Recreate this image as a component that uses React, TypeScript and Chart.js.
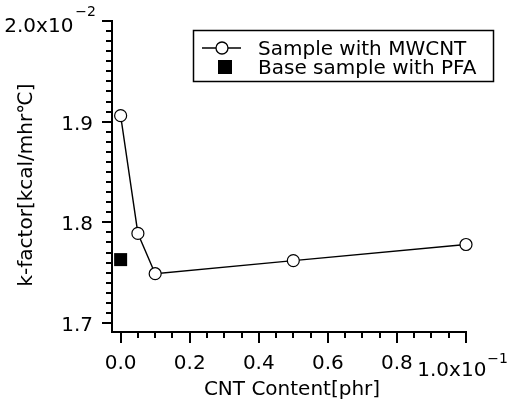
import React, { useEffect, useRef } from "react";
import { Chart, registerables } from "chart.js";

Chart.register(...registerables);

// ---- data ----
const contentX = [0, 0.05, 0.1, 0.5, 1.0]; // CNT content, x10^-1 phr
const mwcntK = [1.906, 1.789, 1.749, 1.762, 1.778]; // k-factor, x10^-2
const pfaX = [0];
const pfaK = [1.763];

const xMajorTicks = [0, 0.2, 0.4, 0.6, 0.8, 1.0];
const xTickLabels = ["0.0", "0.2", "0.4", "0.6", "0.8", "1.0x10"];
const xMinorStep = 0.05;
const yMajorTicks = [1.7, 1.8, 1.9, 2.0];
const yTickLabels = ["1.7", "1.8", "1.9", "2.0x10"];
const yMinorStep = 0.01;
const xExponent = "\u22121";
const yExponent = "\u22122";

const xTitle = "CNT Content[phr]";
const yTitle = "k-factor[kcal/mhr℃]";
const seriesNames = ["Sample with MWCNT", "Base sample with PFA"];

const FONT = '"DejaVu Sans", sans-serif';

const axesPlugin = {
  id: "customAxes",
  afterDraw(chart: any) {
    const ctx = chart.ctx as CanvasRenderingContext2D;
    const xs = chart.scales.x;
    const ys = chart.scales.y;
    const ca = chart.chartArea;
    ctx.save();
    ctx.strokeStyle = "#000";
    ctx.fillStyle = "#000";
    ctx.lineWidth = 2;
    const left = Math.round(ca.left);
    const bottom = Math.round(ca.bottom);
    // axis lines
    ctx.beginPath();
    ctx.moveTo(left, Math.round(ys.getPixelForValue(2.0)) - 1);
    ctx.lineTo(left, bottom);
    ctx.lineTo(Math.round(xs.getPixelForValue(1.0)) + 1, bottom);
    ctx.stroke();

    // x ticks
    const nX = Math.round(1.0 / xMinorStep);
    for (let i = 0; i <= nX; i++) {
      const v = i * xMinorStep;
      const px = Math.round(xs.getPixelForValue(v));
      const major = xMajorTicks.some((m) => Math.abs(m - v) < 1e-6);
      ctx.beginPath();
      ctx.moveTo(px, bottom);
      ctx.lineTo(px, bottom + (major ? 11 : 6));
      ctx.stroke();
    }
    // y ticks
    const nY = Math.round((2.0 - 1.7) / yMinorStep);
    for (let i = 0; i <= nY; i++) {
      const v = 1.7 + i * yMinorStep;
      const py = Math.round(ys.getPixelForValue(v));
      const major = yMajorTicks.some((m) => Math.abs(m - v) < 1e-6);
      ctx.beginPath();
      ctx.moveTo(left, py);
      ctx.lineTo(left - (major ? 10 : 6), py);
      ctx.stroke();
    }

    // labels
    const F = `20px ${FONT}`;
    const FS = `14px ${FONT}`;
    ctx.font = F;
    ctx.textBaseline = "alphabetic";
    xMajorTicks.forEach((v, i) => {
      const px = xs.getPixelForValue(v);
      if (i === xMajorTicks.length - 1) {
        ctx.font = FS;
        const ew = ctx.measureText(xExponent).width;
        ctx.textAlign = "right";
        ctx.fillText(xExponent, 508, bottom + 31);
        ctx.font = F;
        ctx.fillText(xTickLabels[i], 508 - ew - 1, bottom + 44);
      } else {
        ctx.textAlign = "center";
        ctx.fillText(xTickLabels[i], px, bottom + 37);
      }
    });
    yMajorTicks.forEach((v, i) => {
      const py = ys.getPixelForValue(v);
      if (i === yMajorTicks.length - 1) {
        ctx.font = FS;
        ctx.textAlign = "right";
        ctx.fillText(yExponent, left - 16, py - 5);
        const ew = ctx.measureText(yExponent).width;
        ctx.font = F;
        ctx.fillText(yTickLabels[i], left - 16 - ew - 2, py + 11);
      } else {
        ctx.textAlign = "right";
        ctx.fillText(yTickLabels[i], left - 19, py + 8);
      }
    });

    // axis titles
    ctx.textAlign = "center";
    ctx.fillText(xTitle, (left + xs.getPixelForValue(1.0)) / 2 + 3, bottom + 63);
    ctx.save();
    ctx.translate(32, 185);
    ctx.rotate(-Math.PI / 2);
    ctx.fillText(yTitle, 0, 0);
    ctx.restore();

    // legend
    const bx = 193, by = 30, bw = 300, bh = 51;
    ctx.fillStyle = "#fff";
    ctx.fillRect(bx, by, bw, bh);
    ctx.lineWidth = 1.5;
    ctx.strokeStyle = "#000";
    ctx.strokeRect(bx + 0.5, by + 0.5, bw, bh);
    ctx.fillStyle = "#000";
    const r1 = 48, r2 = 67;
    ctx.lineWidth = 1.3;
    ctx.beginPath();
    ctx.moveTo(202, r1);
    ctx.lineTo(241, r1);
    ctx.stroke();
    ctx.beginPath();
    ctx.arc(222, r1, 6, 0, Math.PI * 2);
    ctx.fillStyle = "#fff";
    ctx.fill();
    ctx.stroke();
    ctx.fillStyle = "#000";
    ctx.fillRect(218, r2 - 7, 14, 14);
    ctx.textAlign = "left";
    ctx.font = F;
    ctx.fillText(seriesNames[0], 258, r1 + 7);
    ctx.fillText(seriesNames[1], 258, r2 + 7);
    ctx.restore();
  },
};

export default function App() {
  const ref = useRef<HTMLCanvasElement | null>(null);
  useEffect(() => {
    if (!ref.current) return;
    const chart = new Chart(ref.current, {
      type: "scatter",
      data: {
        datasets: [
          {
            label: seriesNames[0],
            data: contentX.map((x, i) => ({ x, y: mwcntK[i] })),
            showLine: true,
            borderColor: "#000",
            borderWidth: 1.4,
            pointRadius: 6,
            pointBackgroundColor: "#fff",
            pointBorderColor: "#000",
            pointBorderWidth: 1.2,
            clip: false as any,
            order: 1,
          },
          {
            label: seriesNames[1],
            data: pfaX.map((x, i) => ({ x, y: pfaK[i] })),
            pointStyle: "rect",
            pointRadius: 9.2,
            pointBackgroundColor: "#000",
            pointBorderColor: "#000",
            pointBorderWidth: 0,
            showLine: false,
            clip: false as any,
            order: 0,
          },
        ],
      },
      options: {
        responsive: false,
        animation: false,
        layout: { padding: { left: 112, right: 43, top: 21, bottom: 69 } },
        plugins: { legend: { display: false }, tooltip: { enabled: false } },
        scales: {
          x: { type: "linear", min: -0.025, max: 1.0, display: false },
          y: { type: "linear", min: 1.6911, max: 2.0, display: false },
        },
      },
      plugins: [axesPlugin],
    });
    return () => chart.destroy();
  }, []);
  return (
    <div style={{ position: "fixed", left: 0, top: 0, width: 509, height: 401, background: "#fff" }}>
      <canvas ref={ref} width={509} height={401} />
    </div>
  );
}
